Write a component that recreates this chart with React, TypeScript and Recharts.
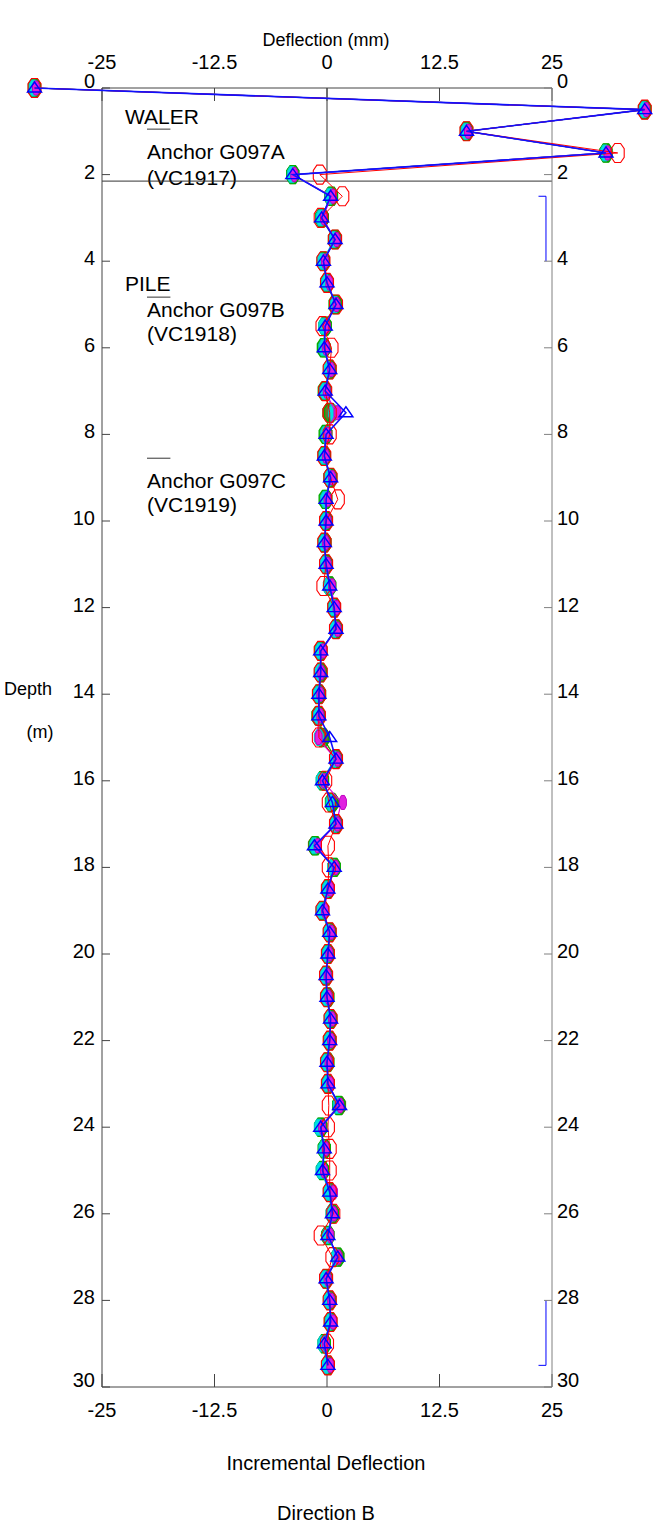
import React from 'react';
import { ScatterChart, Scatter, XAxis, YAxis, ReferenceLine, Customized } from 'recharts';

const FONT = '"Liberation Sans", Arial, sans-serif';

const depths = [
  0, 0.5, 1, 1.5, 2, 2.5, 3, 3.5, 4, 4.5, 5, 5.5, 6, 6.5, 7, 7.5, 8, 8.5, 9, 9.5,
  10, 10.5, 11, 11.5, 12, 12.5, 13, 13.5, 14, 14.5, 15, 15.5, 16, 16.5, 17, 17.5, 18, 18.5, 19, 19.5,
  20, 20.5, 21, 21.5, 22, 22.5, 23, 23.5, 24, 24.5, 25, 25.5, 26, 26.5, 27, 27.5, 28, 28.5, 29, 29.5,
];

const blueDefl = [
  -32.5, 35.3, 15.5, 31.0, -3.8, 0.4, -0.6, 0.9, -0.4, 0.0, 1.0, -0.2, -0.3, 0.3, -0.2, 2.1, -0.1, -0.3, 0.4, -0.1,
  -0.1, -0.3, -0.1, 0.3, 0.8, 1.0, -0.7, -0.7, -0.9, -0.9, 0.3, 1.0, -0.5, 0.6, 1.0, -1.4, 0.8, 0.1, -0.5, 0.3,
  0.1, -0.1, 0.0, 0.4, 0.3, 0.0, 0.1, 1.4, -0.7, -0.3, -0.5, 0.3, 0.6, 0.1, 1.2, -0.1, 0.3, 0.4, -0.3, 0.1,
];
const redDefl = [
  -32.5, 35.3, 15.5, 32.3, -0.8, 1.7, -0.7, 0.9, -0.4, 0.0, 1.0, -0.5, 0.5, 0.3, -0.2, 0.3, 0.3, -0.3, 0.4, 1.2,
  -0.1, -0.3, -0.1, -0.4, 0.8, 1.0, -0.7, -0.7, -0.9, -0.9, -0.9, 1.0, -0.2, 0.2, 1.0, 0.1, 0.2, 0.1, -0.5, 0.3,
  0.1, -0.1, 0.0, 0.4, 0.3, 0.0, 0.1, 0.2, 0.1, 0.3, 0.3, 0.3, 0.7, -0.7, 0.6, -0.1, 0.3, 0.4, 0.0, 0.1,
];
const magentaDefl = [
  -32.5, 35.3, 15.5, 31.0, -3.8, 0.5, -0.5, 0.9, -0.4, 0.1, 0.9, -0.2, -0.3, 0.3, -0.2, 1.0, -0.1, -0.3, 0.4, -0.1,
  -0.1, -0.3, -0.1, 0.4, 0.9, 1.0, -0.6, -0.8, -0.9, -0.9, -1.1, 1.0, -0.5, 1.6, 1.0, -1.2, 0.8, 0.2, -0.4, 0.3,
  0.1, -0.1, 0.0, 0.4, 0.3, 0.0, 0.2, 1.3, -0.7, -0.3, -0.5, 0.6, 0.6, 0.2, 1.1, -0.1, 0.3, 0.5, -0.3, 0.2,
];
const cyanDefl = [
  -32.5, 35.3, 15.5, 31.0, -3.8, 0.4, -0.6, 0.8, -0.5, 0.0, 1.0, -0.3, -0.3, 0.2, -0.2, 0.8, -0.1, -0.3, 0.3, -0.1,
  -0.1, -0.3, -0.2, 0.2, 0.8, 0.9, -0.7, -0.8, -0.9, -0.9, -0.8, 0.9, -0.6, 0.5, 1.0, -1.3, 0.7, 0.1, -0.6, 0.2,
  0.1, -0.2, 0.0, 0.3, 0.3, 0.0, 0.1, 1.3, -0.8, -0.3, -0.6, 0.2, 0.5, 0.1, 1.1, -0.2, 0.2, 0.4, -0.4, 0.0,
];
const greenDefl = [
  -32.5, 35.3, 15.5, 31.0, -3.8, 0.5, -0.6, 0.9, -0.4, 0.0, 0.9, -0.2, -0.4, 0.3, -0.3, 0.4, -0.2, -0.3, 0.4, -0.2,
  -0.1, -0.3, -0.1, 0.3, 0.8, 1.0, -0.7, -0.7, -0.9, -1.0, -0.5, 1.0, -0.5, 0.5, 1.0, -1.3, 0.8, 0.1, -0.5, 0.3,
  0.1, -0.1, 0.1, 0.4, 0.3, 0.1, 0.1, 1.3, -0.7, -0.3, -0.5, 0.3, 0.6, 0.1, 1.2, -0.1, 0.3, 0.4, -0.3, 0.1,
];
const oliveDefl = [
  -32.5, 35.3, 15.5, 31.0, -3.8, 0.4, -0.5, 0.8, -0.4, 0.0, 1.0, -0.2, -0.3, 0.3, -0.2, 0.2, -0.1, -0.3, 0.3, -0.1,
  -0.1, -0.2, -0.1, 0.3, 0.8, 1.0, -0.7, -0.7, -0.8, -0.9, -0.4, 1.0, -0.5, 0.6, 1.0, -1.4, 0.8, 0.1, -0.5, 0.3,
  0.1, -0.1, 0.0, 0.4, 0.3, 0.0, 0.1, 1.4, -0.7, -0.3, -0.5, 0.3, 0.6, 0.1, 1.2, -0.1, 0.3, 0.4, -0.3, 0.1,
];

const xTicks = [-25, -12.5, 0, 12.5, 25];
const yTicks = [0, 2, 4, 6, 8, 10, 12, 14, 16, 18, 20, 22, 24, 26, 28, 30];

const toPoints = (vals: number[]) => depths.map((d, i) => ({ x: vals[i], y: d }));

const octPath = (cx: number, cy: number, hw: number, hh: number) => {
  const a = hw * 0.45;
  const b = hh * 0.45;
  return `M${cx - a},${cy - hh}L${cx + a},${cy - hh}L${cx + hw},${cy - b}L${cx + hw},${cy + b}L${cx + a},${cy + hh}L${cx - a},${cy + hh}L${cx - hw},${cy + b}L${cx - hw},${cy - b}Z`;
};

const octShape = (hw: number, hh: number, fill: string, stroke: string, sw: number, dx = 0) => (p: any) => (
  <path d={octPath(p.cx + dx, p.cy, hw, hh)} fill={fill} stroke={stroke} strokeWidth={sw} />
);

const triShape = (stroke: string) => (p: any) => (
  <path
    d={`M${p.cx},${p.cy - 6}L${p.cx + 7},${p.cy + 4}L${p.cx - 7},${p.cy + 4}Z`}
    fill="none"
    stroke={stroke}
    strokeWidth={1.4}
  />
);

const TICK_FS = 20;
const txt = { fontFamily: FONT, fill: '#000' };

const TopTick = (p: any) => (
  <text x={p.x} y={p.y} textAnchor="middle" fontSize={TICK_FS} {...txt}>
    {p.payload.value}
  </text>
);
const BottomTick = (p: any) => (
  <text x={p.x} y={p.y} textAnchor="middle" fontSize={TICK_FS} {...txt}>
    {p.payload.value}
  </text>
);
const yShift = (p: any) => (p.index === 0 || p.index === yTicks.length - 1 ? 0 : 4);
const LeftTick = (p: any) => (
  <text x={p.x} y={p.y + yShift(p)} textAnchor="end" fontSize={TICK_FS} {...txt}>
    {p.payload.value}
  </text>
);
const RightTick = (p: any) => (
  <text x={p.x} y={p.y + yShift(p)} textAnchor="start" fontSize={TICK_FS} {...txt}>
    {p.payload.value}
  </text>
);

const ANN_FS = 21;
const Annotations = () => (
  <g style={{ fontFamily: FONT }}>
    <text x={326} y={46} textAnchor="middle" fontSize={18} fill="#000">Deflection (mm)</text>
    <text x={125} y={124} fontSize={ANN_FS} fill="#000">WALER</text>
    <text x={147} y={159} fontSize={ANN_FS} fill="#000">Anchor G097A</text>
    <text x={147} y={185} fontSize={ANN_FS} fill="#000">(VC1917)</text>
    <text x={125} y={291} fontSize={ANN_FS} fill="#000">PILE</text>
    <text x={147} y={317} fontSize={ANN_FS} fill="#000">Anchor G097B</text>
    <text x={147} y={341} fontSize={ANN_FS} fill="#000">(VC1918)</text>
    <text x={147} y={488} fontSize={ANN_FS} fill="#000">Anchor G097C</text>
    <text x={147} y={512} fontSize={ANN_FS} fill="#000">(VC1919)</text>
    <text x={28} y={695} textAnchor="middle" fontSize={18} fill="#000">Depth</text>
    <text x={40} y={738} textAnchor="middle" fontSize={18} fill="#000">(m)</text>
    <text x={326} y={1470} textAnchor="middle" fontSize={20} fill="#000">Incremental Deflection</text>
    <text x={326} y={1520} textAnchor="middle" fontSize={20} fill="#000">Direction  B</text>
  </g>
);

const axisStroke = '#444';

export default function App() {
  return (
    <div style={{ position: 'absolute', left: 0, top: 0, width: 664, height: 1539, background: '#fff' }}>
      <style>{'.recharts-scatter{clip-path:none !important}'}</style>
      <ScatterChart width={664} height={1539} margin={{ top: 0, right: 0, bottom: 0, left: 0 }}>
        <XAxis
          xAxisId="top"
          orientation="top"
          type="number"
          dataKey="x"
          domain={[-25, 25]}
          allowDataOverflow
          ticks={xTicks}
          interval={0}
          height={88}
          tickSize={-13}
          tickMargin={32}
          stroke={axisStroke}
          tick={TopTick}
        />
        <XAxis
          xAxisId="bottom"
          orientation="bottom"
          type="number"
          dataKey="x"
          domain={[-25, 25]}
          allowDataOverflow
          ticks={xTicks}
          interval={0}
          height={152}
          tickSize={-13}
          tickMargin={43}
          stroke={axisStroke}
          tick={BottomTick}
        />
        <YAxis
          yAxisId="left"
          orientation="left"
          type="number"
          dataKey="y"
          domain={[0, 30]}
          allowDataOverflow
          reversed
          ticks={yTicks}
          interval={0}
          width={102}
          tickSize={-8}
          tickMargin={15}
          stroke={axisStroke}
          tick={LeftTick}
        />
        <YAxis
          yAxisId="right"
          orientation="right"
          type="number"
          dataKey="y"
          domain={[0, 30]}
          allowDataOverflow
          reversed
          ticks={yTicks}
          interval={0}
          width={112}
          tickSize={-8}
          tickMargin={13}
          stroke="#808080"
          tick={RightTick}
        />
        <ReferenceLine xAxisId="top" yAxisId="left" y={2.15} stroke="#333" strokeWidth={1} />
        <ReferenceLine xAxisId="top" yAxisId="left" segment={[{ x: 0, y: 0 }, { x: 0, y: 2.15 }]} stroke="#333" strokeWidth={1} />
        <ReferenceLine xAxisId="top" yAxisId="left" segment={[{ x: -20, y: 0.95 }, { x: -17.4, y: 0.95 }]} stroke="#333" strokeWidth={1} />
        <ReferenceLine xAxisId="top" yAxisId="left" segment={[{ x: -20, y: 4.83 }, { x: -17.4, y: 4.83 }]} stroke="#333" strokeWidth={1} />
        <ReferenceLine xAxisId="top" yAxisId="left" segment={[{ x: -20, y: 8.55 }, { x: -17.4, y: 8.55 }]} stroke="#333" strokeWidth={1} />
        <ReferenceLine xAxisId="top" yAxisId="left" segment={[{ x: 24.33, y: 2.5 }, { x: 24.33, y: 4.0 }]} stroke="#0000ff" strokeWidth={1} />
        <ReferenceLine xAxisId="top" yAxisId="left" segment={[{ x: 23.5, y: 2.5 }, { x: 24.33, y: 2.5 }]} stroke="#0000ff" strokeWidth={1} />
        <ReferenceLine xAxisId="top" yAxisId="left" segment={[{ x: 24.33, y: 28.0 }, { x: 24.33, y: 29.5 }]} stroke="#0000ff" strokeWidth={1} />
        <ReferenceLine xAxisId="top" yAxisId="left" segment={[{ x: 23.5, y: 29.5 }, { x: 24.33, y: 29.5 }]} stroke="#0000ff" strokeWidth={1} />

        <Scatter
          xAxisId="top"
          yAxisId="left"
          data={toPoints(oliveDefl)}
          fill="#808040"
          line={{ stroke: '#808000', strokeWidth: 1 }}
          lineType="joint"
          shape={octShape(6, 9, '#6e6e30', '#606000', 1)}
          isAnimationActive={false}
        />
        <Scatter
          xAxisId="top"
          yAxisId="left"
          data={toPoints(greenDefl)}
          fill="#00a000"
          line={{ stroke: '#00a000', strokeWidth: 1 }}
          lineType="joint"
          shape={octShape(6, 9, 'none', '#00b000', 1.4)}
          isAnimationActive={false}
        />
        <Scatter
          xAxisId="top"
          yAxisId="left"
          data={toPoints(cyanDefl)}
          fill="#00e0e0"
          line={{ stroke: '#00d8d8', strokeWidth: 1.2 }}
          lineType="joint"
          shape={octShape(4.5, 8, '#00e0e0', '#00c8c8', 1, -1)}
          isAnimationActive={false}
        />
        <Scatter
          xAxisId="top"
          yAxisId="left"
          data={toPoints(magentaDefl)}
          fill="#e000e0"
          line={{ stroke: '#e000e0', strokeWidth: 1.2 }}
          lineType="joint"
          shape={octShape(3.5, 7, '#e020e0', '#c000c0', 1, 1.5)}
          isAnimationActive={false}
        />
        <Scatter
          xAxisId="top"
          yAxisId="left"
          data={toPoints(redDefl)}
          fill="#ff0000"
          line={{ stroke: '#ff0000', strokeWidth: 1 }}
          lineType="joint"
          shape={octShape(6.5, 9.5, 'none', '#ff0000', 1.1)}
          isAnimationActive={false}
        />
        <Scatter
          xAxisId="top"
          yAxisId="left"
          data={toPoints(blueDefl)}
          fill="#0000ff"
          line={{ stroke: '#1010ff', strokeWidth: 1.6 }}
          lineType="joint"
          shape={triShape('#0000ff')}
          isAnimationActive={false}
        />
        <Customized component={Annotations} />
      </ScatterChart>
    </div>
  );
}
